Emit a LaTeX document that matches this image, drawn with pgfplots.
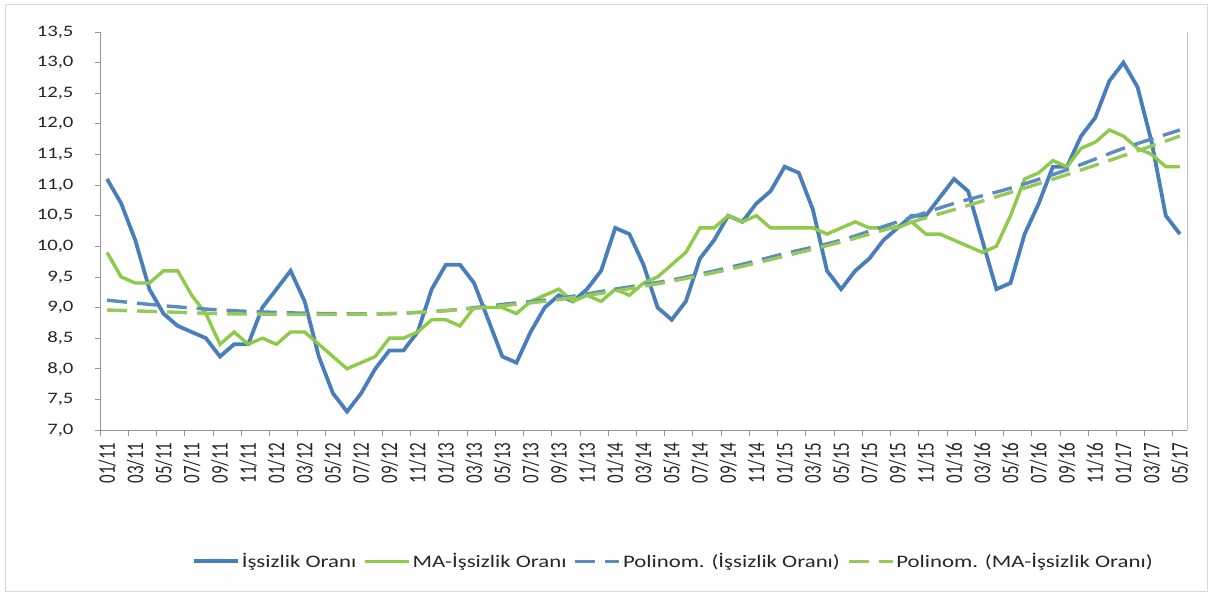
\documentclass[border=0pt]{standalone}
\usepackage{fontspec}
\setmainfont{Carlito}[FakeStretch=1.3]
\newfontfamily\plainfont{Carlito}
\usepackage{graphicx}
\usepackage{pgfplots}
\pgfplotsset{compat=1.18}
\definecolor{cblue}{RGB}{74,126,187}
\definecolor{cgreen}{RGB}{141,203,73}
\definecolor{cgreend}{RGB}{150,200,90}
\definecolor{caxis}{RGB}{150,150,150}
\newcommand{\xl}[1]{\scalebox{1}[1.4]{\plainfont #1}}

\pgfplotstableread{
i blue green
0 11.1 9.9
1 10.7 9.5
2 10.1 9.4
3 9.3 9.4
4 8.9 9.6
5 8.7 9.6
6 8.6 9.2
7 8.5 8.9
8 8.2 8.4
9 8.4 8.6
10 8.4 8.4
11 9.0 8.5
12 9.3 8.4
13 9.6 8.6
14 9.1 8.6
15 8.2 8.4
16 7.6 8.2
17 7.3 8.0
18 7.6 8.1
19 8.0 8.2
20 8.3 8.5
21 8.3 8.5
22 8.6 8.6
23 9.3 8.8
24 9.7 8.8
25 9.7 8.7
26 9.4 9.0
27 8.8 9.0
28 8.2 9.0
29 8.1 8.9
30 8.6 9.1
31 9.0 9.2
32 9.2 9.3
33 9.1 9.1
34 9.3 9.2
35 9.6 9.1
36 10.3 9.3
37 10.2 9.2
38 9.7 9.4
39 9.0 9.5
40 8.8 9.7
41 9.1 9.9
42 9.8 10.3
43 10.1 10.3
44 10.5 10.5
45 10.4 10.4
46 10.7 10.5
47 10.9 10.3
48 11.3 10.3
49 11.2 10.3
50 10.6 10.3
51 9.6 10.2
52 9.3 10.3
53 9.6 10.4
54 9.8 10.3
55 10.1 10.3
56 10.3 10.3
57 10.5 10.4
58 10.5 10.2
59 10.8 10.2
60 11.1 10.1
61 10.9 10.0
62 10.1 9.9
63 9.3 10.0
64 9.4 10.5
65 10.2 11.1
66 10.7 11.2
67 11.3 11.4
68 11.3 11.3
69 11.8 11.6
70 12.1 11.7
71 12.7 11.9
72 13.0 11.8
73 12.6 11.6
74 11.7 11.5
75 10.5 11.3
76 10.2 11.3
}\datatable

\pgfplotstableread{
i tb tg
0 9.12 8.96
4 9.03 8.93
8 8.96 8.90
12 8.92 8.89
16 8.90 8.89
20 8.90 8.90
24 8.95 8.95
28 9.05 9.03
32 9.15 9.13
36 9.30 9.27
40 9.45 9.43
44 9.65 9.62
48 9.88 9.84
52 10.10 10.07
56 10.40 10.33
60 10.70 10.60
64 10.95 10.88
68 11.25 11.17
72 11.60 11.48
76 11.90 11.80
}\trendtable

\begin{document}
\begin{tikzpicture}
\path[use as bounding box] (0bp,0bp) rectangle (1213bp,595bp);
\draw[gray!30, line width=0.8bp] (5bp,4bp) rectangle (1207bp,591bp);
\begin{axis}[
  at={(100bp,165bp)}, anchor=south west,
  scale only axis, width=1087bp, height=398bp,
  xmin=-0.5, xmax=76.5, ymin=7, ymax=13.5,
  axis x line*=bottom, axis y line*=left,
  axis line style={caxis, line width=0.8bp, -},
  ytick={7,7.5,...,13.5},
  xtick={0,2,...,76},
  xticklabels={\xl{01/11},\xl{03/11},\xl{05/11},\xl{07/11},\xl{09/11},\xl{11/11},
    \xl{01/12},\xl{03/12},\xl{05/12},\xl{07/12},\xl{09/12},\xl{11/12},
    \xl{01/13},\xl{03/13},\xl{05/13},\xl{07/13},\xl{09/13},\xl{11/13},
    \xl{01/14},\xl{03/14},\xl{05/14},\xl{07/14},\xl{09/14},\xl{11/14},
    \xl{01/15},\xl{03/15},\xl{05/15},\xl{07/15},\xl{09/15},\xl{11/15},
    \xl{01/16},\xl{03/16},\xl{05/16},\xl{07/16},\xl{09/16},\xl{11/16},
    \xl{01/17},\xl{03/17},\xl{05/17}},
  minor xtick={-0.5,1.5,...,76.5},
  every major x tick/.append style={draw=none},
  every minor x tick/.append style={draw=caxis, line width=0.8bp},
  every major y tick/.append style={draw=caxis, line width=0.8bp},
  tick align=outside, major tick length=5bp, minor tick length=6bp,
  xticklabel style={rotate=90, anchor=east, xshift=-4bp, font=\fontsize{17}{17}\selectfont, text=black!85},
  yticklabel style={font=\fontsize{16}{16}\selectfont, text=black!85, xshift=-18bp},
  /pgf/number format/.cd, fixed, fixed zerofill, precision=1, use comma, assume math mode=true,
  /pgfplots/.cd,
  legend style={at={(0.5275,-0.33)}, anchor=center, draw=none, fill=none,
    legend columns=4, font=\fontsize{17.6}{17.6}\selectfont, text=black!85,
    /tikz/every even column/.append style={column sep=5bp}},
  legend image code/.code={\draw[#1] (0bp,0bp) -- (44bp,0bp);},
  clip=false,
]
\addplot[cblue, line width=3.8bp] table[x=i, y=blue] {\datatable};
\addlegendentry{İşsizlik Oranı}
\addplot[cgreen, line width=3.4bp] table[x=i, y=green] {\datatable};
\addlegendentry{MA-İşsizlik Oranı}
\addplot[cblue!90!white, line width=3.4bp, dash pattern=on 20bp off 10bp, smooth] table[x=i, y=tb] {\trendtable};
\addlegendentry{Polinom. (İşsizlik Oranı)}
\addplot[cgreend, line width=3.4bp, dash pattern=on 20bp off 10bp, smooth] table[x=i, y=tg] {\trendtable};
\addlegendentry{Polinom. (MA-İşsizlik Oranı)}
\draw[caxis!60, line width=0.8bp] (rel axis cs:1,0) -- (rel axis cs:1,1);
\end{axis}
\end{tikzpicture}
\end{document}
